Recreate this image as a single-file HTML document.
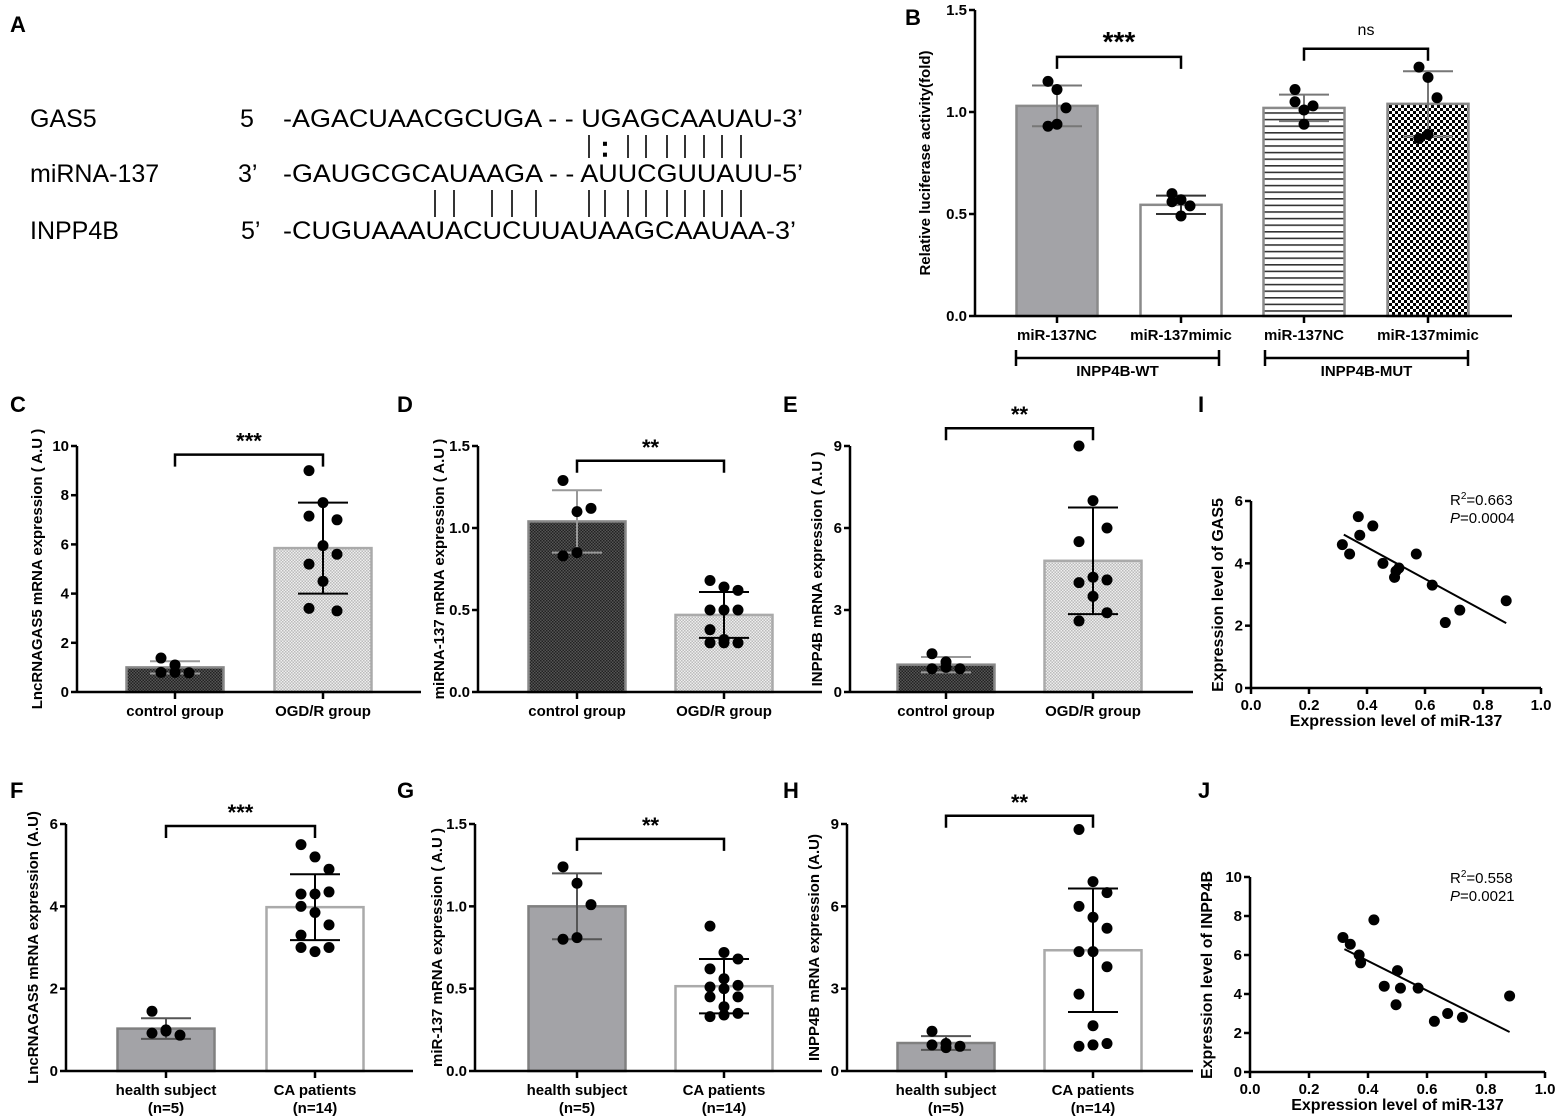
<!DOCTYPE html>
<html><head><meta charset="utf-8"><style>
html,body{margin:0;padding:0;background:#fff;}
svg{display:block;font-family:"Liberation Sans",Arial,sans-serif;}
.seq{font-size:25px;fill:#000;}
</style></head><body>
<svg id="fig" width="1565" height="1119" viewBox="0 0 1565 1119">
<defs>
<pattern id="pDark" width="3" height="3" patternUnits="userSpaceOnUse"><rect width="3" height="3" fill="#555"/><rect width="1.5" height="1.5" fill="#222"/><rect x="1.5" y="1.5" width="1.5" height="1.5" fill="#222"/></pattern>
<pattern id="pLight" width="3" height="3" patternUnits="userSpaceOnUse"><rect width="3" height="3" fill="#eee"/><rect width="1.5" height="1.5" fill="#bbb"/><rect x="1.5" y="1.5" width="1.5" height="1.5" fill="#bbb"/></pattern>
<pattern id="pStripe" width="6" height="6.6" patternUnits="userSpaceOnUse"><rect width="6" height="6.6" fill="#fff"/><rect y="0" width="6" height="1.6" fill="#333"/></pattern>
<pattern id="pCheck" width="6" height="6" patternUnits="userSpaceOnUse"><rect width="6" height="6" fill="#fff"/><rect width="3" height="3" fill="#000"/><rect x="3" y="3" width="3" height="3" fill="#000"/></pattern>
</defs>

<!-- Panel A -->
<g>
<text x="10" y="32" font-size="22" font-weight="bold">A</text>
<text class="seq" x="30" y="127">GAS5</text>
<text class="seq" x="240" y="127">5</text>
<text class="seq" x="283" y="127" textLength="520" lengthAdjust="spacingAndGlyphs">-AGACUAACGCUGA - - UGAGCAAUAU-3’</text>
<text class="seq" x="30" y="182">miRNA-137</text>
<text class="seq" x="238" y="182">3’</text>
<text class="seq" x="283" y="182" textLength="520" lengthAdjust="spacingAndGlyphs">-GAUGCGCAUAAGA - - AUUCGUUAUU-5’</text>
<text class="seq" x="30" y="239">INPP4B</text>
<text class="seq" x="241" y="239">5’</text>
<text class="seq" x="283" y="239" textLength="513" lengthAdjust="spacingAndGlyphs">-CUGUAAAUACUCUUAUAAGCAAUAA-3’</text>
<g id="pairs" stroke="#000" stroke-width="1.6"></g>
</g>
<g id="charts"></g>
</svg>
<script>
// ---- Panel A pairing positions (x px) ----
const topPairs=[589,628,646,667,685,704,722,741];
const botPairs=[435,454,492,512,536,589,605,628,646,667,685,704,722,741];
// ---- Panel B data ----
const bCats=["miR-137NC","miR-137mimic","miR-137NC","miR-137mimic"];
const bMeans=[1.03,0.545,1.02,1.04];
const bErr=[0.10,0.045,0.065,0.16];
const bPts=[[1.15,1.11,1.02,0.93,0.94],[0.60,0.57,0.54,0.56,0.49],[1.11,1.01,1.03,1.05,0.94],[1.22,1.17,1.07,0.87,0.89]];
const bTicks=["0.0","0.5","1.0","1.5"];
// ---- C ----
const cCats=["control group","OGD/R group"];
const cMeans=[1.0,5.85]; const cErr=[0.25,1.85];
const cPts=[[1.38,1.1,0.78,0.8,0.8],[9.0,7.7,7.0,7.15,5.95,5.6,5.2,4.5,3.3,3.4]];
const cTicks=["0","2","4","6","8","10"];
// ---- D ----
const dMeans=[1.04,0.47]; const dErr=[0.19,0.14];
const dPts=[[1.29,1.1,1.12,0.83,0.85],[0.68,0.64,0.62,0.5,0.5,0.5,0.38,0.32,0.3,0.3,0.3]];
const dTicks=["0.0","0.5","1.0","1.5"];
// ---- E ----
const eMeans=[1.0,4.8]; const eErr=[0.28,1.95];
const ePts=[[1.4,1.1,0.85,0.85,0.9],[9.0,7.0,6.0,5.5,4.2,4.1,4.0,3.5,2.9,2.6]];
const eTicks=["0","3","6","9"];
// ---- F ----
const fCats=["health subject","CA patients"];
const fSub=["(n=5)","(n=14)"];
const fMeans=[1.03,3.98]; const fErr=[0.25,0.8];
const fPts=[[1.45,1.0,0.87,0.92,0.97],[5.5,5.2,4.9,4.3,4.3,4.35,4.0,3.85,3.55,3.3,2.9,3.0,3.0]];
const fTicks=["0","2","4","6"];
// ---- G ----
const gMeans=[1.0,0.515]; const gErr=[0.2,0.165];
const gPts=[[1.24,1.14,1.01,0.8,0.81],[0.88,0.72,0.68,0.62,0.56,0.52,0.51,0.5,0.45,0.45,0.39,0.35,0.33,0.34]];
const gTicks=["0.0","0.5","1.0","1.5"];
// ---- H ----
const hMeans=[1.02,4.4]; const hErr=[0.25,2.25];
const hPts=[[1.45,1.0,0.9,0.95,0.85],[8.8,6.9,6.5,6.0,5.6,5.2,4.35,4.35,3.8,2.8,1.65,1.0,0.9,0.95]];
const hTicks=["0","3","6","9"];
// ---- I ----
const iX=[0.315,0.34,0.37,0.375,0.42,0.455,0.495,0.5,0.51,0.57,0.625,0.67,0.72,0.88];
const iY=[4.6,4.3,5.5,4.9,5.2,4.0,3.55,3.75,3.85,4.3,3.3,2.1,2.5,2.8];
const iFit=[[0.32,4.92],[0.88,2.08]];
const iYTicks=["0","2","4","6"];
// ---- J ----
const jX=[0.315,0.34,0.37,0.375,0.42,0.455,0.495,0.5,0.51,0.57,0.625,0.67,0.72,0.88];
const jY=[6.9,6.55,6.0,5.6,7.8,4.4,3.45,5.2,4.3,4.3,2.6,3.0,2.8,3.9];
const jFit=[[0.32,6.3],[0.88,2.05]];
const jYTicks=["0","2","4","6","8","10"];
const scXTicks=["0.0","0.2","0.4","0.6","0.8","1.0"];

const NS="http://www.w3.org/2000/svg";
const root=document.getElementById('charts');
function mk(tag,attrs,parent,txt){const e=document.createElementNS(NS,tag);for(const k in attrs)e.setAttribute(k,attrs[k]);if(txt!==undefined)e.textContent=txt;(parent||root).appendChild(e);return e;}

const pg=document.getElementById('pairs');
topPairs.forEach(x=>{const l=mk('line',{x1:x,x2:x,y1:135,y2:158},pg);});
{const t=mk('text',{x:605,y:156,'font-size':25,'text-anchor':'middle'},pg,':');}
botPairs.forEach(x=>{const l=mk('line',{x1:x,x2:x,y1:190,y2:217},pg);});

function barPanel(c){
  const g=mk('g',{});
  
  
  const ymax=parseFloat(c.ticks[c.ticks.length-1]);
  const Y=v=>c.y0-(v/ymax)*(c.y0-c.yTop);
  const lab=mk('text',{x:c.labX,y:c.labY,'font-size':22,'font-weight':'bold'},g,c.letter);
  
  c.means.forEach((m,i)=>{
    const cx=c.cx[i];
    const r=mk('rect',{x:cx-c.bw/2,y:Y(m),width:c.bw,height:c.y0-Y(m),fill:c.fills[i],stroke:c.strokes[i],'stroke-width':2.5},g);
    
  });
  c.means.forEach((m,i)=>{
    const cx=c.cx[i],col=c.errCol[i],e=c.err[i];
    const eg=mk('g',{stroke:col,'stroke-width':2},g);
    
    mk('line',{x1:cx,x2:cx,y1:Y(m+e),y2:Y(m-e)},eg);
    mk('line',{x1:cx-c.ew,x2:cx+c.ew,y1:Y(m+e),y2:Y(m+e)},eg);
    mk('line',{x1:cx-c.ew,x2:cx+c.ew,y1:Y(m-e),y2:Y(m-e)},eg);
  });
  c.pts.forEach((arr,i)=>{
    arr.forEach((v,j)=>{
      const jit=((j%3)-1)*c.jit;
      const p=mk('circle',{cx:c.cx[i]+jit,cy:Y(v),r:5.5,fill:'#000'},g);
      
    });
  });
  const ax=mk('g',{stroke:'#000','stroke-width':2.5},g);
  
  mk('line',{x1:c.ax,x2:c.ax,y1:c.yTop,y2:c.y0},ax);
  mk('line',{x1:c.ax,x2:c.xEnd,y1:c.y0,y2:c.y0},ax);
  c.ticks.forEach(t=>{const y=Y(parseFloat(t));mk('line',{x1:c.ax-6,x2:c.ax,y1:y,y2:y},ax);
    const tt=mk('text',{x:c.ax-8,y:y+5,'font-size':15,'font-weight':'bold','text-anchor':'end',stroke:'none'},g,t);
    });
  c.cx.forEach((cx,i)=>{mk('line',{x1:cx,x2:cx,y1:c.y0,y2:c.y0+7},ax);
    const tl=mk('text',{x:cx,y:c.y0+24,'font-size':15,'font-weight':'bold','text-anchor':'middle'},g,c.cats[i]);
    
    if(c.sub){const s=mk('text',{x:cx,y:c.y0+42,'font-size':15,'font-weight':'bold','text-anchor':'middle'},g,c.sub[i]);
      }
  });
  const yt=mk('text',{x:0,y:0,'font-size':15,'font-weight':'bold','text-anchor':'middle',transform:`translate(${c.titleX},${(c.yTop+c.y0)/2}) rotate(-90)`},g,c.title);
  
  c.brackets.forEach(b=>{
    const by=Y(b.v);
    const bg=mk('path',{d:`M${c.cx[b.a]},${by+12}V${by}H${c.cx[b.b]}V${by+12}`,fill:'none',stroke:'#000','stroke-width':2.5},g);
    
    const st=mk('text',{x:(c.cx[b.a]+c.cx[b.b])/2,y:by-(b.t==='ns'?14:6),'font-size':b.t==='ns'?16:(b.big?28:22),'font-weight':b.t==='ns'?'normal':'bold','text-anchor':'middle'},g,b.t);
    
  });
  return g;
}

const gB=barPanel({name:'panel-b',letter:'B',labX:905,labY:25,ax:975,xEnd:1512,y0:316,yTop:10,cx:[1057,1181,1304,1428],bw:81,
  means:bMeans,err:bErr,pts:bPts,ticks:bTicks,cats:bCats,fills:['#a3a3a7','#fff','url(#pStripe)','url(#pCheck)'],strokes:['#8a8a8a','#8a8a8a','#8a8a8a','#8a8a8a'],
  errCol:['#777','#333','#777','#777'],ew:25,jit:9,title:'Relative luciferase activity(fold)',titleX:930,
  brackets:[{a:0,b:1,v:1.27,t:'***',big:true},{a:2,b:3,v:1.31,t:'ns'}]});
[[1016,1219,'INPP4B-WT'],[1265,1468,'INPP4B-MUT']].forEach(q=>{
  const p=mk('path',{d:`M${q[0]},350V366M${q[0]},358H${q[1]}M${q[1]},350V366`,stroke:'#000','stroke-width':2.5,fill:'none'},gB);
  
  const t=mk('text',{x:(q[0]+q[1])/2,y:376,'font-size':15,'font-weight':'bold','text-anchor':'middle'},gB,q[2]);
  
});

const topFills=['url(#pDark)','url(#pLight)'], topStrokes=['#888','#aaa'];
barPanel({name:'panel-c',letter:'C',labX:10,labY:412,ax:77,xEnd:421,y0:692,yTop:446,cx:[175,323],bw:97,means:cMeans,err:cErr,pts:cPts,ticks:cTicks,cats:cCats,
  fills:topFills,strokes:topStrokes,errCol:['#999','#000'],ew:25,jit:14,title:'LncRNAGAS5 mRNA expression ( A.U )',titleX:42,brackets:[{a:0,b:1,v:9.65,t:'***'}]});
barPanel({name:'panel-d',letter:'D',labX:397,labY:412,ax:478,xEnd:822,y0:692,yTop:446,cx:[577,724],bw:97,means:dMeans,err:dErr,pts:dPts,ticks:dTicks,cats:cCats,
  fills:topFills,strokes:topStrokes,errCol:['#999','#000'],ew:25,jit:14,title:'miRNA-137 mRNA expression ( A.U )',titleX:444,brackets:[{a:0,b:1,v:1.41,t:'**'}]});
barPanel({name:'panel-e',letter:'E',labX:783,labY:412,ax:850,xEnd:1193,y0:692,yTop:446,cx:[946,1093],bw:97,means:eMeans,err:eErr,pts:ePts,ticks:eTicks,cats:cCats,
  fills:topFills,strokes:topStrokes,errCol:['#999','#000'],ew:25,jit:14,title:'INPP4B mRNA expression ( A.U )',titleX:822,brackets:[{a:0,b:1,v:9.65,t:'**'}]});

const botFills=['#a3a3a7','#fff'], botStrokes=['#808080','#aaa'];
barPanel({name:'panel-f',letter:'F',labX:10,labY:798,ax:66,xEnd:413,y0:1071,yTop:824,cx:[166,315],bw:97,means:fMeans,err:fErr,pts:fPts,ticks:fTicks,cats:fCats,sub:fSub,
  fills:botFills,strokes:botStrokes,errCol:['#555','#000'],ew:25,jit:14,title:'LncRNAGAS5 mRNA expression (A.U)',titleX:38,brackets:[{a:0,b:1,v:5.95,t:'***'}]});
barPanel({name:'panel-g',letter:'G',labX:397,labY:798,ax:475,xEnd:822,y0:1071,yTop:824,cx:[577,724],bw:97,means:gMeans,err:gErr,pts:gPts,ticks:gTicks,cats:fCats,sub:fSub,
  fills:botFills,strokes:botStrokes,errCol:['#555','#000'],ew:25,jit:14,title:'miR-137  mRNA expression ( A.U )',titleX:442,brackets:[{a:0,b:1,v:1.41,t:'**'}]});
barPanel({name:'panel-h',letter:'H',labX:783,labY:798,ax:847,xEnd:1193,y0:1071,yTop:824,cx:[946,1093],bw:97,means:hMeans,err:hErr,pts:hPts,ticks:hTicks,cats:fCats,sub:fSub,
  fills:botFills,strokes:botStrokes,errCol:['#555','#000'],ew:25,jit:14,title:'INPP4B mRNA expression (A.U)',titleX:819,brackets:[{a:0,b:1,v:9.3,t:'**'}]});

function scatter(c){
  const g=mk('g',{});
  
  
  const ymax=parseFloat(c.yTicks[c.yTicks.length-1]);
  const X=v=>c.ax+v*(c.xEnd-c.ax);
  const Y=v=>c.y0-(v/ymax)*(c.y0-c.yTop);
  const lab=mk('text',{x:c.labX,y:c.labY,'font-size':22,'font-weight':'bold'},g,c.letter);
  
  const ax=mk('g',{stroke:'#000','stroke-width':2.5},g);
  
  mk('line',{x1:c.ax,x2:c.ax,y1:c.yTop,y2:c.y0},ax);
  mk('line',{x1:c.ax,x2:c.xEnd,y1:c.y0,y2:c.y0},ax);
  c.yTicks.forEach(t=>{const y=Y(parseFloat(t));mk('line',{x1:c.ax-6,x2:c.ax,y1:y,y2:y},ax);
    const tt=mk('text',{x:c.ax-8,y:y+5,'font-size':15,'font-weight':'bold','text-anchor':'end'},g,t);
    });
  scXTicks.forEach(t=>{const x=X(parseFloat(t));mk('line',{x1:x,x2:x,y1:c.y0,y2:c.y0+6},ax);
    const tt=mk('text',{x:x,y:c.y0+22,'font-size':15,'font-weight':'bold','text-anchor':'middle'},g,t);
    });
  const fit=mk('line',{x1:X(c.fit[0][0]),y1:Y(c.fit[0][1]),x2:X(c.fit[1][0]),y2:Y(c.fit[1][1]),stroke:'#000','stroke-width':2},g);
  
  c.xs.forEach((x,i)=>{const p=mk('circle',{cx:X(x),cy:Y(c.ys[i]),r:5.5,fill:'#000'},g);
    });
  const xt=mk('text',{x:(c.ax+c.xEnd)/2,y:c.y0+38,'font-size':16,'font-weight':'bold','text-anchor':'middle'},g,'Expression level of miR-137');
  
  const yt=mk('text',{x:0,y:0,'font-size':16,'font-weight':'bold','text-anchor':'middle',transform:`translate(${c.titleX},${c.titleY}) rotate(-90)`},g,c.title);
  
  const r=mk('text',{x:c.rx,y:c.ry,'font-size':15},g);r.innerHTML='R<tspan dy="-6" font-size="10">2</tspan><tspan dy="6">='+c.r2+'</tspan>';
  
  const p=mk('text',{x:c.rx,y:c.ry+18,'font-size':15},g);p.innerHTML='<tspan font-style="italic">P</tspan>='+c.p;
  
}
scatter({name:'panel-i',letter:'I',labX:1198,labY:412,ax:1251,xEnd:1541,y0:688,yTop:501,xs:iX,ys:iY,fit:iFit,yTicks:iYTicks,
  title:'Expression level of GAS5',titleX:1223,titleY:595,rx:1450,ry:505,r2:'0.663',p:'0.0004'});
scatter({name:'panel-j',letter:'J',labX:1198,labY:798,ax:1250,xEnd:1545,y0:1072,yTop:877,xs:jX,ys:jY,fit:jFit,yTicks:jYTicks,
  title:'Expression level of  INPP4B',titleX:1212,titleY:975,rx:1450,ry:883,r2:'0.558',p:'0.0021'});
</script>
</body></html>
